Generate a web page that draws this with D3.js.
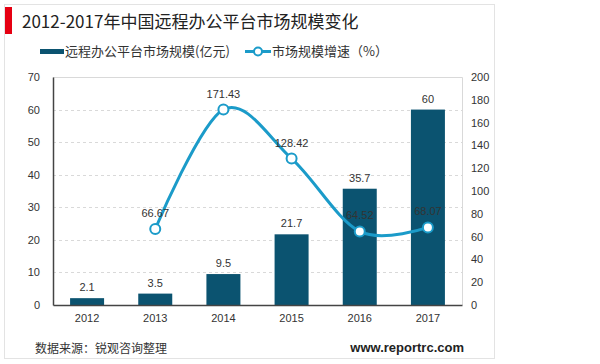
<!DOCTYPE html>
<html>
<head>
<meta charset="utf-8">
<script src="https://cdn.jsdelivr.net/npm/d3@7"></script>
<style>
  body { margin: 0; background: #fff; }
  svg { display: block; font-family: "Liberation Sans", Arial, sans-serif; }
  .cjk { font-family: "Noto Sans CJK SC", sans-serif; }
</style>
</head>
<body>
<svg id="vis" width="600" height="364"></svg>
<script>
// data
var years = ["2012", "2013", "2014", "2015", "2016", "2017"];
var scale = [2.1, 3.5, 9.5, 21.7, 35.7, 60];
var growth = [null, 66.67, 171.43, 128.42, 64.52, 68.07];
var leftTicks = [0, 10, 20, 30, 40, 50, 60, 70];
var rightTicks = [0, 20, 40, 60, 80, 100, 120, 140, 160, 180, 200];

var barColor = "#0b5370", lineColor = "#1b9bc9";

var svg = d3.select("#vis");

// outer frame
svg.append("rect")
    .attr("x", 4.5).attr("y", 4.5)
    .attr("width", 490).attr("height", 354)
    .attr("fill", "none").attr("stroke", "#e3e3e3");

// red marker + title
svg.append("rect").attr("x", 5).attr("y", 7).attr("width", 7).attr("height", 27).attr("fill", "#e60012");
svg.append("text").attr("class", "cjk")
    .attr("x", 22).attr("y", 28)
    .attr("font-size", 17).attr("fill", "#222")
    .text("2012-2017年中国远程办公平台市场规模变化");

var margin = {left: 53, right: 462, top: 77, bottom: 305};

var x = d3.scaleBand().domain(years).range([margin.left, margin.right]);
var y = d3.scaleLinear().domain([0, 70]).range([margin.bottom, margin.top]);
var y2 = d3.scaleLinear().domain([0, 200]).range([margin.bottom, margin.top]);

// grid
svg.append("g").selectAll("line")
    .data(leftTicks.slice(1, -1))
    .enter().append("line")
    .attr("x1", margin.left).attr("x2", margin.right)
    .attr("y1", function(d) { return Math.round(y(d)) + 0.5; })
    .attr("y2", function(d) { return Math.round(y(d)) + 0.5; })
    .attr("stroke", "#d9d9d9").attr("stroke-dasharray", "3,3");

// plot frame top / right
svg.append("path")
    .attr("d", "M" + margin.left + "," + (margin.top + 0.5) + "H" + (margin.right + 0.5) + "V" + margin.bottom)
    .attr("fill", "none").attr("stroke", "#d9d9d9");

// bars
svg.append("g").selectAll("rect")
    .data(scale)
    .enter().append("rect")
    .attr("x", function(d, i) { return x(years[i]) + x.bandwidth() / 2 - 17; })
    .attr("width", 34)
    .attr("y", function(d) { return y(d); })
    .attr("height", function(d) { return y(0) - y(d); })
    .attr("fill", barColor);

// bar labels
svg.append("g").selectAll("text")
    .data(scale)
    .enter().append("text")
    .attr("x", function(d, i) { return x(years[i]) + x.bandwidth() / 2; })
    .attr("y", function(d) { return y(d) - 7; })
    .attr("text-anchor", "middle")
    .attr("font-size", 11).attr("fill", "#333")
    .text(function(d) { return d; });

// left axis
var axL = svg.append("g")
    .attr("transform", "translate(" + margin.left + ",0)")
    .call(d3.axisLeft(y).tickValues(leftTicks).tickSize(0).tickPadding(13));
axL.select(".domain").attr("stroke", "#444").attr("stroke-width", 1.5);
axL.selectAll("text").attr("font-size", 11).attr("fill", "#333").attr("font-family", "Liberation Sans, Arial, sans-serif");

// right axis
var axR = svg.append("g")
    .attr("transform", "translate(" + margin.right + ",0)")
    .call(d3.axisRight(y2).tickValues(rightTicks).tickSize(0).tickPadding(9));
axR.select(".domain").remove();
axR.selectAll("text").attr("font-size", 11).attr("fill", "#333").attr("font-family", "Liberation Sans, Arial, sans-serif");

// bottom axis
var axB = svg.append("g")
    .attr("transform", "translate(0," + margin.bottom + ")")
    .call(d3.axisBottom(x).tickSize(0).tickPadding(9));
axB.select(".domain").attr("stroke", "#444").attr("stroke-width", 1.5);
axB.selectAll("text").attr("font-size", 11).attr("fill", "#333").attr("font-family", "Liberation Sans, Arial, sans-serif");

// growth line
var pts = growth.map(function(d, i) { return {year: years[i], v: d}; })
    .filter(function(d) { return d.v != null; });

var line = d3.line()
    .curve(d3.curveCatmullRom.alpha(0))
    .x(function(d) { return x(d.year) + x.bandwidth() / 2; })
    .y(function(d) { return y2(d.v); });

svg.append("path")
    .datum(pts)
    .attr("d", line)
    .attr("fill", "none").attr("stroke", lineColor).attr("stroke-width", 3);

svg.append("g").selectAll("circle")
    .data(pts)
    .enter().append("circle")
    .attr("cx", function(d) { return x(d.year) + x.bandwidth() / 2; })
    .attr("cy", function(d) { return y2(d.v); })
    .attr("r", 5)
    .attr("fill", "#fff").attr("stroke", lineColor).attr("stroke-width", 2);

svg.append("g").selectAll("text")
    .data(pts)
    .enter().append("text")
    .attr("x", function(d) { return x(d.year) + x.bandwidth() / 2; })
    .attr("y", function(d) { return y2(d.v) - 12; })
    .attr("text-anchor", "middle")
    .attr("font-size", 11).attr("fill", "#333")
    .text(function(d) { return d.v; });

// legend
var lg = svg.append("g");
lg.append("rect").attr("x", 40).attr("y", 49).attr("width", 24).attr("height", 5).attr("fill", barColor);
lg.append("text").attr("class", "cjk").attr("x", 65).attr("y", 56)
    .attr("font-size", 13).attr("fill", "#333").text("远程办公平台市场规模(亿元)");
lg.append("line").attr("x1", 245).attr("x2", 271).attr("y1", 51.5).attr("y2", 51.5)
    .attr("stroke", lineColor).attr("stroke-width", 3);
lg.append("circle").attr("cx", 258).attr("cy", 51.5).attr("r", 4)
    .attr("fill", "#fff").attr("stroke", lineColor).attr("stroke-width", 2);
lg.append("text").attr("class", "cjk").attr("x", 272).attr("y", 56)
    .attr("font-size", 13).attr("fill", "#333").text("市场规模增速（%）");

// footer
svg.append("text").attr("class", "cjk").attr("x", 35).attr("y", 353)
    .attr("font-size", 12).attr("fill", "#333").text("数据来源：锐观咨询整理");
svg.append("text").attr("x", 464).attr("y", 352)
    .attr("text-anchor", "end")
    .attr("font-size", 13).attr("font-weight", "bold").attr("fill", "#222")
    .text("www.reportrc.com");
</script>
</body>
</html>
